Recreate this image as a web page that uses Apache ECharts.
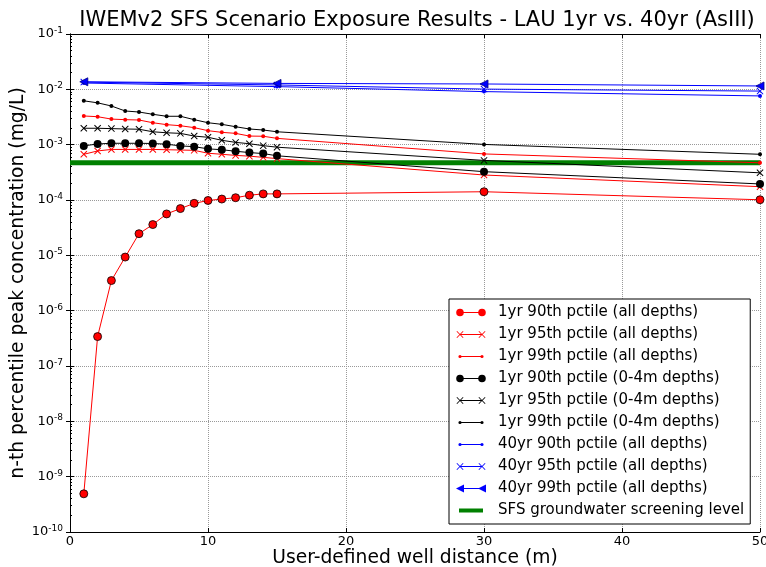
<!DOCTYPE html>
<html>
<head>
<meta charset="utf-8">
<script src="https://cdn.jsdelivr.net/npm/echarts@6/dist/echarts.min.js"></script>
<style>
  html, body { margin: 0; padding: 0; background: #fff; }
  #chart { width: 766px; height: 567px; }
</style>
</head>
<body>
<div id="chart"></div>
<script>
// well distances (m)
var dist = [1, 2, 3, 4, 5, 6, 7, 8, 9, 10, 11, 12, 13, 14, 15, 30, 50];
var dist40 = [1, 15, 30, 50];

// 1yr, all depths
var y1p90 = [4.9e-10, 3.4e-7, 3.5e-6, 9.3e-6, 2.46e-5, 3.6e-5, 5.6e-5, 7.0e-5, 8.7e-5, 9.8e-5, 1.04e-4, 1.1e-4, 1.22e-4, 1.29e-4, 1.29e-4, 1.41e-4, 1.01e-4];
var y1p95 = [6.7e-4, 7.7e-4, 8.2e-4, 8.2e-4, 8.2e-4, 8.2e-4, 8.1e-4, 8.0e-4, 7.9e-4, 7.0e-4, 6.7e-4, 6.4e-4, 6.2e-4, 5.9e-4, 5.6e-4, 2.83e-4, 1.74e-4];
var y1p99 = [3.3e-3, 3.2e-3, 2.9e-3, 2.83e-3, 2.79e-3, 2.49e-3, 2.3e-3, 2.2e-3, 2.03e-3, 1.79e-3, 1.67e-3, 1.6e-3, 1.43e-3, 1.42e-3, 1.3e-3, 6.8e-4, 4.7e-4];
// 1yr, 0-4m depths
var d1p90 = [9.5e-4, 1.03e-3, 1.06e-3, 1.06e-3, 1.06e-3, 1.05e-3, 1.02e-3, 9.5e-4, 9.2e-4, 8.4e-4, 8.1e-4, 7.6e-4, 7.2e-4, 6.9e-4, 6.3e-4, 3.25e-4, 1.95e-4];
var d1p95 = [1.98e-3, 1.98e-3, 1.95e-3, 1.92e-3, 1.9e-3, 1.71e-3, 1.64e-3, 1.6e-3, 1.43e-3, 1.36e-3, 1.2e-3, 1.1e-3, 1.04e-3, 9.6e-4, 9.0e-4, 5.2e-4, 3.1e-4];
var d1p99 = [6.2e-3, 5.7e-3, 5.0e-3, 4.06e-3, 3.89e-3, 3.54e-3, 3.26e-3, 3.26e-3, 2.83e-3, 2.49e-3, 2.33e-3, 2.11e-3, 1.92e-3, 1.84e-3, 1.71e-3, 1.01e-3, 6.7e-4];
// 40yr, all depths
var y40p90 = [1.3e-2, 1.12e-2, 9.1e-3, 7.6e-3];
var y40p95 = [1.35e-2, 1.2e-2, 1.01e-2, 9.3e-3];
var y40p99 = [1.37e-2, 1.28e-2, 1.25e-2, 1.15e-2];
// screening level
var screenLevel = 4.7e-4;
var screenX = [0, 50];

var names = [
  '1yr 90th pctile (all depths)',
  '1yr 95th pctile (all depths)',
  '1yr 99th pctile (all depths)',
  '1yr 90th pctile (0-4m depths)',
  '1yr 95th pctile (0-4m depths)',
  '1yr 99th pctile (0-4m depths)',
  '40yr 90th pctile (all depths)',
  '40yr 95th pctile (all depths)',
  '40yr 99th pctile (all depths)',
  'SFS groundwater screening level'
];

var X_SYM = 'path://M0,1L1,0L5,4L9,0L10,1L6,5L10,9L9,10L5,6L1,10L0,9L4,5Z';
var TRI_L = 'path://M0,5L10,0L10,10Z';

// legend icons: line sample with a marker at both ends (30 x 14 frame)
var FRAME = 'M0,0L0.01,0L0,0.01Z M30,14L29.99,14L30,13.99Z ';
var LINE = 'M4,6.5L26,6.5L26,7.5L4,7.5Z ';
function circ(cx, r) {
  return 'M' + (cx - r) + ',7A' + r + ',' + r + ',0,1,1,' + (cx + r) + ',7A' + r + ',' + r + ',0,1,1,' + (cx - r) + ',7Z ';
}
function xmark(cx) {
  var s = 3.5, w = 0.6;
  return 'M' + (cx - s) + ',' + (7 - s + w) + 'L' + (cx - s + w) + ',' + (7 - s) + 'L' + cx + ',' + (7 - w) +
    'L' + (cx + s - w) + ',' + (7 - s) + 'L' + (cx + s) + ',' + (7 - s + w) + 'L' + (cx + w) + ',7' +
    'L' + (cx + s) + ',' + (7 + s - w) + 'L' + (cx + s - w) + ',' + (7 + s) + 'L' + cx + ',' + (7 + w) +
    'L' + (cx - s + w) + ',' + (7 + s) + 'L' + (cx - s) + ',' + (7 + s - w) + 'L' + (cx - w) + ',7Z ';
}
function tri(cx) {
  return 'M' + (cx - 4) + ',7L' + (cx + 4) + ',3L' + (cx + 4) + ',11Z ';
}
var ICON_O = 'path://' + FRAME + LINE + circ(4, 3.8) + circ(26, 3.8);
var ICON_X = 'path://' + FRAME + LINE + xmark(4) + xmark(26);
var ICON_D = 'path://' + FRAME + LINE + circ(4, 1.6) + circ(26, 1.6);
var ICON_T = 'path://' + FRAME + LINE + tri(4) + tri(26);
var ICON_G = 'path://' + FRAME + 'M3,5L27,5L27,9L3,9Z';
var icons = [ICON_O, ICON_X, ICON_D, ICON_O, ICON_X, ICON_D, ICON_D, ICON_X, ICON_T, ICON_G];

function pairs(xs, ys) {
  return xs.map(function (x, i) { return [x, ys[i]]; });
}

function mk(name, xs, ys, color, symbol, size, edge) {
  return {
    name: name,
    type: 'line',
    data: pairs(xs, ys),
    symbol: symbol,
    symbolSize: size,
    showAllSymbol: true,
    lineStyle: { color: color, width: 1 },
    itemStyle: { color: color, borderColor: edge || color, borderWidth: edge ? 0.8 : 0 },
    emphasis: { disabled: true },
    z: 3
  };
}

var series = [
  mk(names[0], dist, y1p90, '#ff0000', 'circle', 8, '#000'),
  mk(names[1], dist, y1p95, '#ff0000', X_SYM, 7),
  mk(names[2], dist, y1p99, '#ff0000', 'circle', 4),
  mk(names[3], dist, d1p90, '#000000', 'circle', 8),
  mk(names[4], dist, d1p95, '#000000', X_SYM, 7),
  mk(names[5], dist, d1p99, '#000000', 'circle', 4),
  mk(names[6], dist40, y40p90, '#0000ff', 'circle', 4),
  mk(names[7], dist40, y40p95, '#0000ff', X_SYM, 7),
  mk(names[8], dist40, y40p99, '#0000ff', TRI_L, 8, '#000080'),
  {
    name: names[9],
    type: 'line',
    data: pairs(screenX, [screenLevel, screenLevel]),
    symbol: 'none',
    lineStyle: { color: '#008000', width: 5 },
    itemStyle: { color: '#008000' },
    z: 2
  }
];

var gridLine = { show: true, lineStyle: { color: '#999', type: 'dotted', width: 1 } };
var axLine = { show: true, lineStyle: { color: '#000', width: 1 } };
var FONT = 'DejaVu Sans';

var chart = echarts.init(document.getElementById('chart'));
chart.setOption({
  animation: false,
  backgroundColor: '#fff',
  textStyle: { fontFamily: FONT },
  title: {
    text: 'IWEMv2 SFS Scenario Exposure Results - LAU 1yr vs. 40yr (AsIII)',
    left: 412, textAlign: 'center', top: 5,
    textStyle: { fontFamily: FONT, fontSize: 21, fontWeight: 'normal', color: '#000' }
  },
  grid: { left: 70, right: 6, top: 34, bottom: 35, containLabel: false, outerBoundsMode: 'none' },
  legend: {
    orient: 'vertical',
    left: 449, top: 299,
    padding: [6, 6, 6, 7],
    itemWidth: 30, itemHeight: 14, itemGap: 7,
    symbolKeepAspect: true,
    backgroundColor: '#fff',
    borderColor: '#000', borderWidth: 1,
    itemStyle: { borderWidth: 0 },
    textStyle: { fontFamily: FONT, fontSize: 15, color: '#000', padding: [0, 0, 0, 7] },
    data: names.map(function (n, i) { return { name: n, icon: icons[i] }; }),
    selectedMode: false
  },
  xAxis: [{
    type: 'value', min: 0, max: 50, interval: 10,
    name: 'User-defined well distance (m)', nameLocation: 'middle', nameGap: 17,
    nameMoveOverlap: false,
    nameTextStyle: { fontFamily: FONT, fontSize: 18.7, color: '#000', verticalAlign: 'top' },
    axisLine: axLine,
    axisTick: { inside: true, length: 4, lineStyle: { color: '#000' } },
    axisLabel: { fontFamily: FONT, fontSize: 13, color: '#000', margin: 3 },
    splitLine: gridLine
  }, {
    type: 'value', min: 0, max: 50, interval: 10, position: 'top',
    axisLine: axLine,
    axisTick: { inside: true, length: 4, lineStyle: { color: '#000' } },
    axisLabel: { show: false },
    splitLine: { show: false }
  }],
  yAxis: [{
    type: 'log', logBase: 10, min: 1e-10, max: 0.1,
    name: 'n-th percentile peak concentration (mg/L)', nameLocation: 'middle', nameGap: 42,
    nameMoveOverlap: false,
    nameTextStyle: { fontFamily: FONT, fontSize: 18.7, color: '#000' },
    axisLine: axLine,
    axisTick: { inside: true, length: 4, lineStyle: { color: '#000' } },
    minorTick: { show: true, splitNumber: 9, length: 2, lineStyle: { color: '#000' } },
    axisLabel: {
      fontFamily: FONT, fontSize: 13, color: '#000', margin: 7,
      formatter: function (v) {
        var e = Math.round(Math.log10(v));
        return '{b|10}{s|' + e + '}';
      },
      rich: {
        b: { fontFamily: FONT, fontSize: 13, color: '#000' },
        s: { fontFamily: FONT, fontSize: 9, color: '#000', padding: [0, 0, 7, 0] }
      }
    },
    splitLine: gridLine
  }, {
    type: 'log', logBase: 10, min: 1e-10, max: 0.1, position: 'right',
    axisLine: axLine,
    axisTick: { inside: true, length: 4, lineStyle: { color: '#000' } },
    axisLabel: { show: false },
    splitLine: { show: false }
  }],
  series: series
});
</script>
</body>
</html>
